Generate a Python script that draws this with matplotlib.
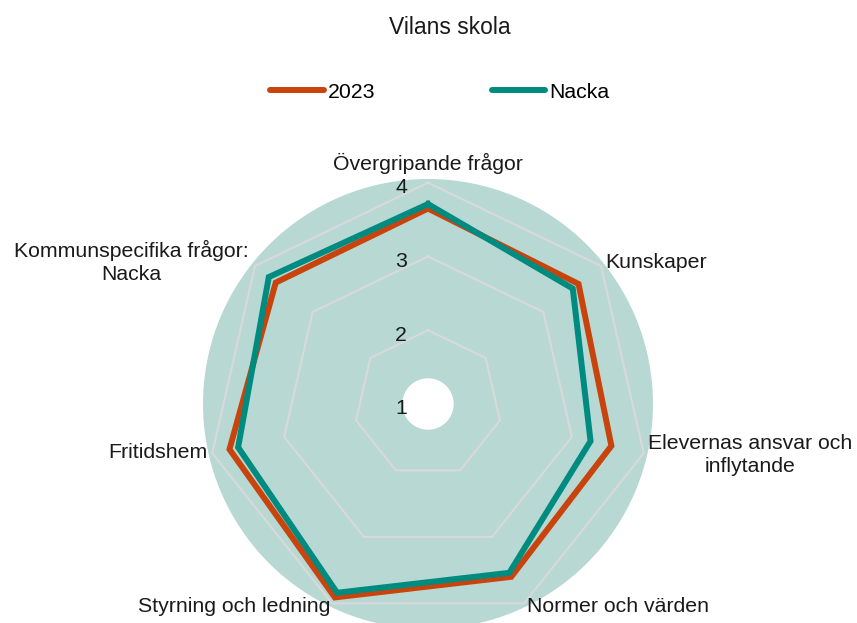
import matplotlib
matplotlib.use("Agg")
import matplotlib.pyplot as plt
import numpy as np
from matplotlib.lines import Line2D
from matplotlib.patches import Circle

plt.rcParams["font.family"] = ["Liberation Sans", "DejaVu Sans"]

CATEGORIES = [
    "Övergripande frågor",
    "Kunskaper",
    "Elevernas ansvar och\ninflytande",
    "Normer och värden",
    "Styrning och ledning",
    "Fritidshem",
    "Kommunspecifika frågor:\nNacka",
]
VALUES_2023 = [3.65, 3.61, 3.55, 3.60, 3.91, 3.76, 3.64]
VALUES_NACKA = [3.71, 3.51, 3.26, 3.54, 3.84, 3.64, 3.76]
SERIES = ["2023", "Nacka"]
RINGS = [1, 2, 3, 4]

ORANGE = "#c8440c"
TEAL = "#008b80"
BG = "#b8d8d4"
GRID = "#d9d9d9"
W, H = 857, 623
FS = 15.3


def closed(vals):
    return list(vals) + [vals[0]]


def main():
    fig = plt.figure(figsize=(W / 100, H / 100), dpi=100)
    cx, cy, rad = 428, 404, 225
    ax = fig.add_axes(
        [(cx - rad) / W, (H - cy - rad) / H, 2 * rad / W, 2 * rad / H],
        projection="polar",
    )
    ax.set_theta_zero_location("N")
    ax.set_theta_direction(-1)
    ax.set_ylim(1, 4.05)
    ax.set_facecolor(BG)
    ax.spines["polar"].set_visible(False)
    ax.grid(False)
    ax.set_xticks([])
    ax.set_yticks([])

    n = len(CATEGORIES)
    theta = np.linspace(0, 2 * np.pi, n, endpoint=False)
    th = closed(theta)

    for r in RINGS:
        ax.plot(th, [r] * (n + 1), color=GRID, lw=1.5, zorder=1)
    for r in RINGS:
        ax.annotate(str(r), xy=(0, r), xytext=(-27, -5), textcoords="offset pixels",
                    ha="center", va="center", fontsize=FS, color="#1a1a1a", zorder=7)

    ax.plot(th, closed(VALUES_2023), color=ORANGE, lw=4.3, zorder=3,
            solid_joinstyle="miter")
    ax.plot(th, closed(VALUES_NACKA), color=TEAL, lw=4.3, zorder=4,
            solid_joinstyle="miter")

    ax.add_artist(Circle((0.5, 0.5), 25 / (2 * rad), transform=ax.transAxes,
                         color="white", zorder=6, clip_on=False))

    # category labels (pixel positions from the reference layout)
    label_pos = [
        (428, 163, "center"),
        (605, 262, "left"),
        (750, 455, "center"),
        (527, 607, "left"),
        (330, 607, "right"),
        (207, 453, "right"),
        (131, 262, "center"),
    ]
    for lab, (x, y, ha) in zip(CATEGORIES, label_pos):
        fig.text(x / W, 1 - y / H, lab, ha=ha, va="center", fontsize=FS,
                 color="#1a1a1a", multialignment="center", linespacing=1.3)

    fig.text(450 / W, 1 - 27 / H, "Vilans skola", ha="center", va="center",
             fontsize=16.5, color="#1a1a1a")

    handles = [
        Line2D([], [], color=ORANGE, lw=4.3, solid_capstyle="round"),
        Line2D([], [], color=TEAL, lw=4.3, solid_capstyle="round"),
    ]
    fig.legend(handles, SERIES, loc="center", bbox_to_anchor=(440 / W, 1 - 92 / H),
               ncol=2, frameon=False, fontsize=FS, handlelength=2.5,
               handletextpad=0.2, columnspacing=5.5)

    fig.savefig("out.png", dpi=100)


if __name__ == "__main__":
    main()
